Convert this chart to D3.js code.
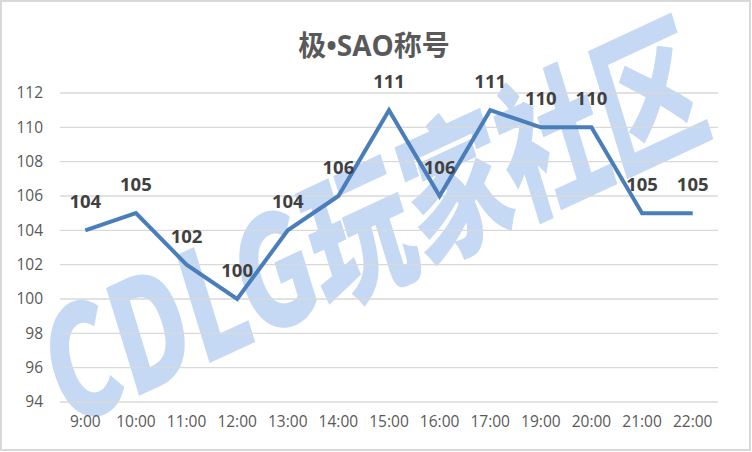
<!DOCTYPE html>
<html><head><meta charset="utf-8">
<script src="https://cdn.jsdelivr.net/npm/d3@7"></script>
<style>body{margin:0;background:#fff}svg{display:block}</style>
</head><body>
<script>
const categories = ["9:00","10:00","11:00","12:00","13:00","14:00","15:00","16:00","17:00","19:00","20:00","21:00","22:00"];
const values = [104,105,102,100,104,106,111,106,111,110,110,105,105];
const yTicks = [94,96,98,100,102,104,106,108,110,112];
const titleParts = [["极","cjk"],["•SAO","latin"],["称号","cjk"]];
const watermark = "CDLG玩家社区";

const W = 752, H = 452;
const svg = d3.select("body").append("svg").attr("width", W).attr("height", H);
svg.append("rect").attr("x",1).attr("y",1).attr("width",W-3).attr("height",H-3)
  .attr("fill","#fff").attr("stroke","#d9d9d9").attr("stroke-width",2);

const x = d3.scaleBand().domain(categories).range([60, 718]);
const y = d3.scaleLinear().domain([94, 112]).range([402, 93]);

// watermark
svg.append("text").attr("transform","translate(66,430) rotate(-25) skewX(-8)")
  .attr("font-family","'Noto Sans CJK SC', sans-serif").attr("font-weight",900)
  .attr("font-size",150).attr("fill","#c6d9f4")
  .attr("textLength",715).attr("lengthAdjust","spacingAndGlyphs")
  .text(watermark);

// gridlines
svg.append("g").selectAll("line").data(yTicks).join("line")
  .attr("x1",60).attr("x2",718).attr("y1",d=>y(d)).attr("y2",d=>y(d))
  .attr("stroke","#d9d9d9").attr("stroke-width",1.3);

const axisFont = "'Open Sans', 'Noto Sans', sans-serif";
// y axis
const ya = svg.append("g").attr("transform","translate(60,0)")
  .call(d3.axisLeft(y).tickValues(yTicks).tickSize(0).tickPadding(17));
ya.select(".domain").remove();
ya.selectAll("text").attr("font-family",axisFont).attr("font-size",15.5).attr("fill","#595959");

// x axis
const xa = svg.append("g").attr("transform","translate(0,402)")
  .call(d3.axisBottom(x).tickSize(0).tickPadding(14));
xa.select(".domain").remove();
xa.selectAll("text").attr("font-family",axisFont).attr("font-size",15.5).attr("fill","#595959");

// line
const line = d3.line().x((d,i)=>x(categories[i])+x.bandwidth()/2).y(d=>y(d));
svg.append("path").datum(values).attr("d",line).attr("fill","none")
  .attr("stroke","#4a7ebb").attr("stroke-width",4).attr("stroke-linejoin","miter");

// labels
svg.append("g").selectAll("text").data(values).join("text")
  .attr("x",(d,i)=>x(categories[i])+x.bandwidth()/2)
  .attr("y",d=>y(d)-22)
  .attr("text-anchor","middle")
  .attr("font-family",axisFont).attr("font-weight",700)
  .attr("font-size",18.5).attr("fill","#404040")
  .text(d=>d);

// title
const t = svg.append("text").attr("x",374).attr("y",56).attr("text-anchor","middle")
  .attr("font-weight",700).attr("font-size",28).attr("fill","#595959");
t.selectAll("tspan").data(titleParts).join("tspan")
  .attr("font-family",d=>d[1]==="cjk" ? "'Noto Sans CJK SC', sans-serif" : "'Open Sans', sans-serif")
  .text(d=>d[0]);
</script>
</body></html>
